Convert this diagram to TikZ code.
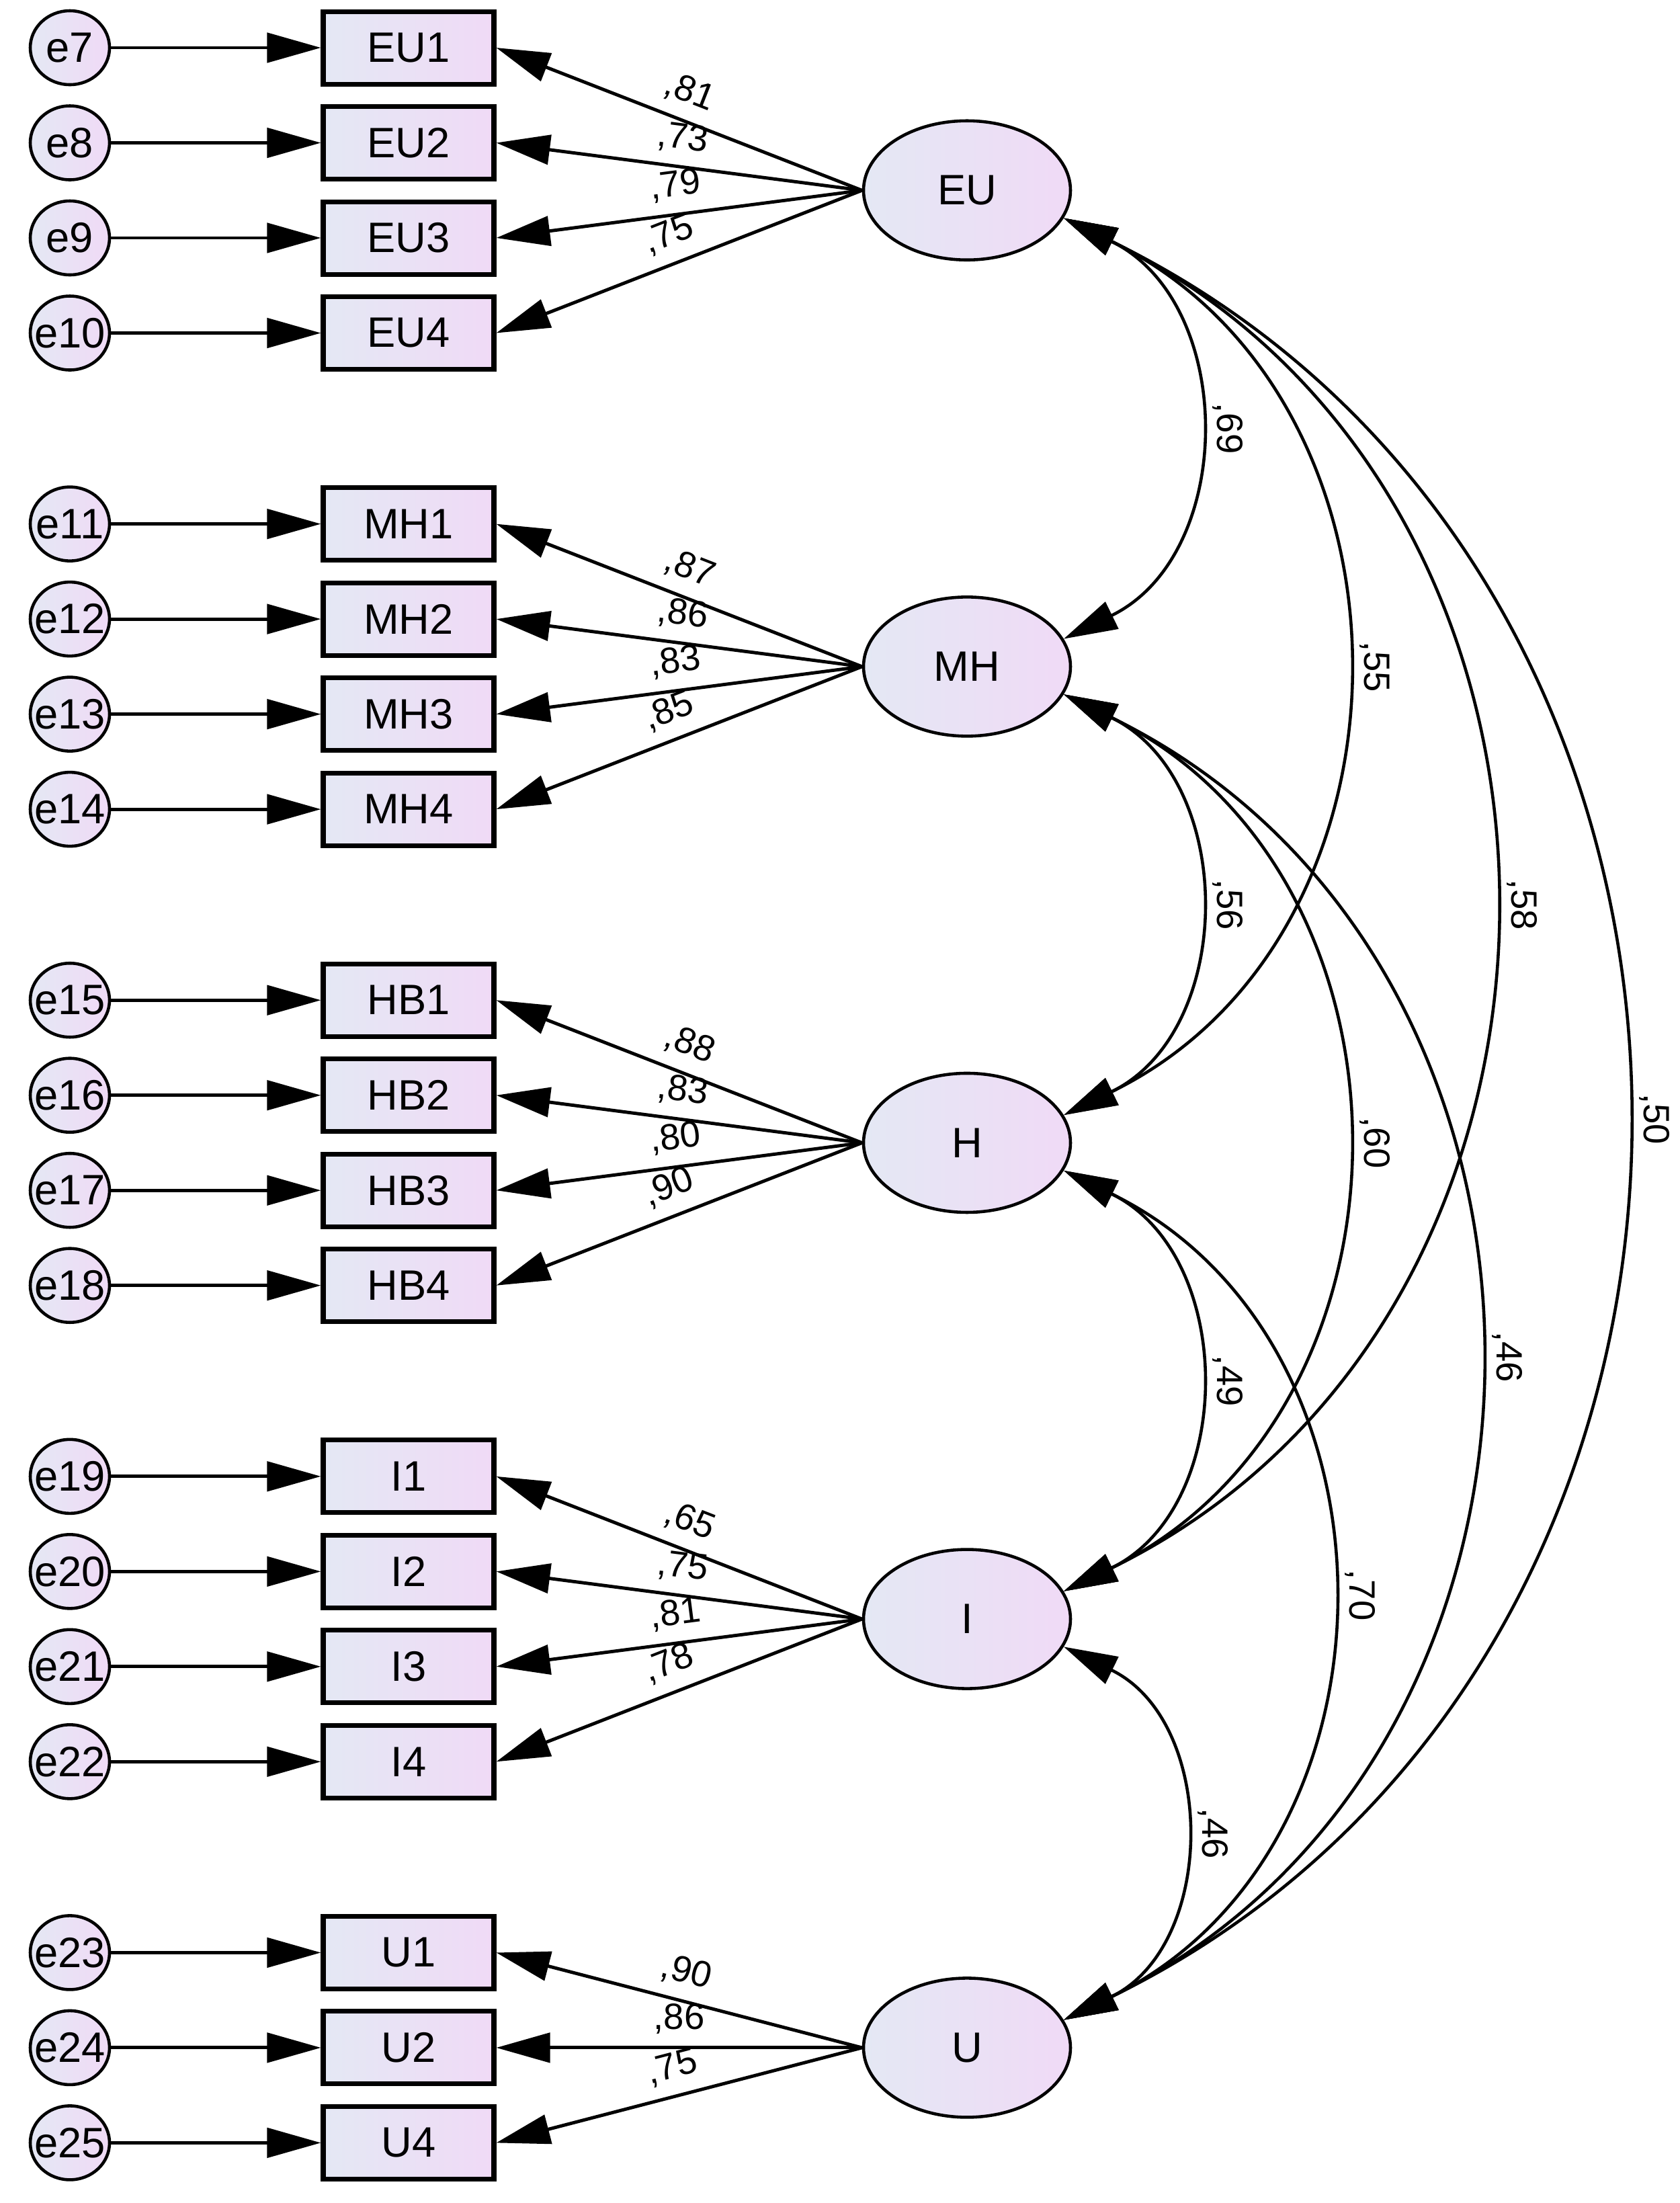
\documentclass[tikz,border=0pt]{standalone}
\usepackage{fontspec}
\setmainfont{Liberation Sans}
\usetikzlibrary{arrows.meta,shapes.geometric}
\definecolor{fillL}{RGB}{228,232,244}
\definecolor{fillR}{RGB}{240,218,246}
\tikzset{
  bigtip/.tip={Triangle[length=0.8cm,width=0.44cm]},
  errnode/.style={ellipse, draw=black, line width=1.3pt, minimum width=1.18cm, minimum height=1.10cm, inner sep=0pt, left color=fillL, right color=fillR, font=\fontsize{18}{21}\selectfont},
  obsbox/.style={rectangle, draw=black, line width=2pt, minimum width=2.54cm, minimum height=1.08cm, inner sep=0pt, left color=fillL, right color=fillR, font=\fontsize{18}{21}\selectfont},
  latent/.style={ellipse, draw=black, line width=1.3pt, minimum width=3.08cm, minimum height=2.07cm, inner sep=0pt, left color=fillL, right color=fillR, font=\fontsize{18}{21}\selectfont},
  errarr/.style={line width=1.4pt, -bigtip},
  loadarr/.style={line width=1.4pt, bigtip-},
  covarr/.style={line width=1.3pt, bigtip-bigtip},
  lab/.style={font=\fontsize{15.5}{18}\selectfont, inner sep=0pt},
  clab/.style={font=\fontsize{15.5}{18}\selectfont, midway, rotate=-90, anchor=south, inner sep=0pt, outer sep=8pt},
}
\begin{document}
\begin{tikzpicture}
\useasboundingbox (0,0) rectangle (25,-32.78);
% latent variables
\node[latent] (EU) at (14.39,-2.8325) {EU};
\node[latent] (MH) at (14.39,-9.9185) {MH};
\node[latent] (H)  at (14.39,-17.0045) {H};
\node[latent] (I)  at (14.39,-24.0905) {I};
\node[latent] (U)  at (14.39,-30.469) {U};
% error terms and indicators
\foreach \ee/\bx/\yy in {e7/EU1/0.71, e8/EU2/2.125, e9/EU3/3.54, e10/EU4/4.955,
  e11/MH1/7.796, e12/MH2/9.211, e13/MH3/10.626, e14/MH4/12.041,
  e15/HB1/14.882, e16/HB2/16.297, e17/HB3/17.712, e18/HB4/19.127,
  e19/I1/21.968, e20/I2/23.383, e21/I3/24.798, e22/I4/26.213,
  e23/U1/29.054, e24/U2/30.469, e25/U4/31.884}{
  \node[errnode] (\ee) at (1.04,-\yy) {\makebox[0pt]{\ee}};
  \node[obsbox] (\bx) at (6.08,-\yy) {\bx};
  \draw[errarr] (\ee) -- (\bx);
}
% loadings
\foreach \bx/\lv/\val in {EU1/EU/81, EU2/EU/73, EU3/EU/79, EU4/EU/75,
  MH1/MH/87, MH2/MH/86, MH3/MH/83, MH4/MH/85,
  HB1/H/88, HB2/H/83, HB3/H/80, HB4/H/90,
  I1/I/65, I2/I/75, I3/I/81, I4/I/78,
  U1/U/90, U2/U/86, U4/U/75}{
  \draw[loadarr] (\bx.east) -- node[lab, midway, sloped, above=5pt] {,\val} (\lv.west);
}
% covariances
\foreach \fa/\fb/\val in {EU/MH/69, EU/H/55, EU/I/58, EU/U/50,
  MH/H/56, MH/I/60, MH/U/46, H/I/49, H/U/70, I/U/46}{
  \draw[covarr] (\fa.-16) to[bend left=64, looseness=1.175] node[clab] {,\val} (\fb.16);
}
\end{tikzpicture}
\end{document}
